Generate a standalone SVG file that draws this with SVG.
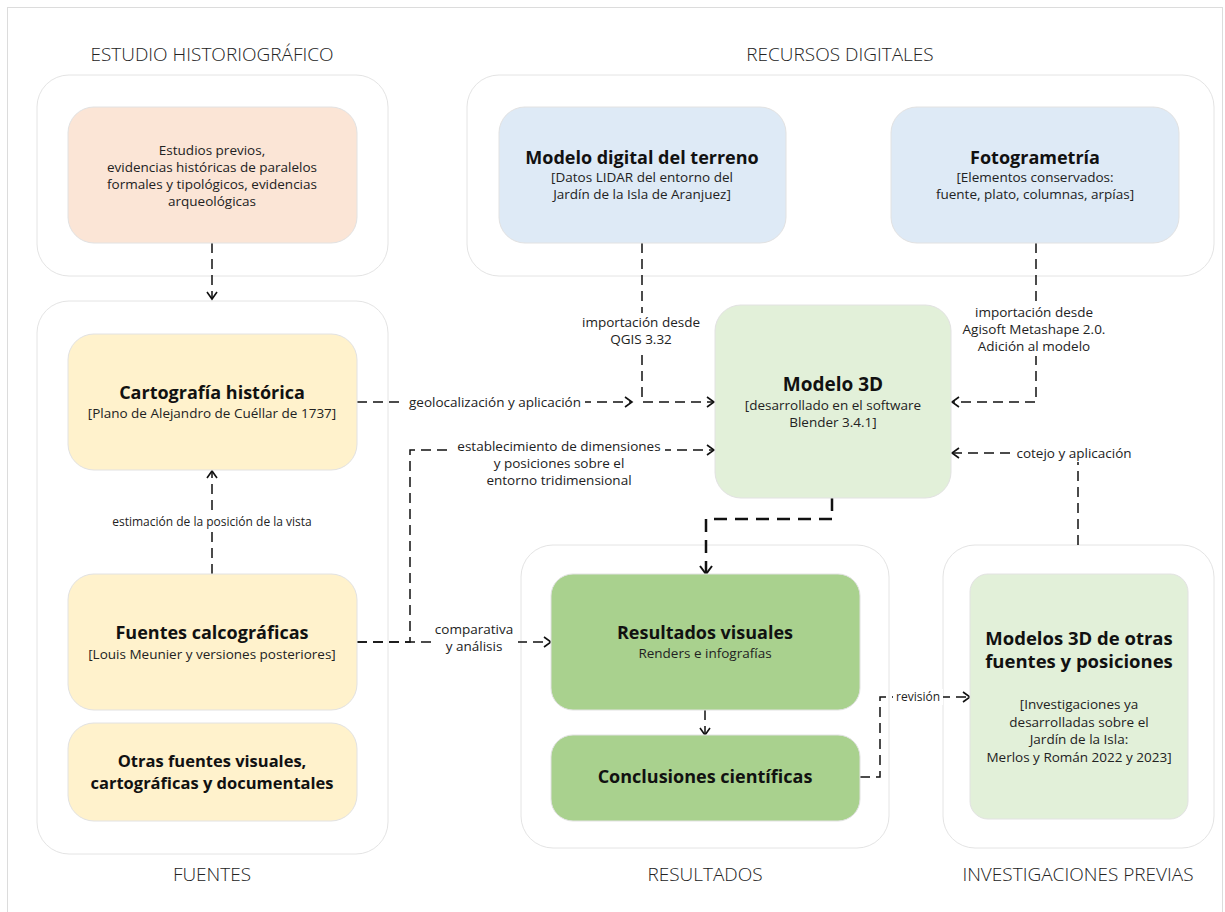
<svg xmlns="http://www.w3.org/2000/svg" width="1225" height="912" viewBox="0 0 1225 912">
<style>
text{font-family:"Open Sans","Noto Sans",sans-serif;fill:#111;text-anchor:middle}
.sec{font-size:19px;font-weight:300;fill:#222}
.ttl{font-size:18px;font-weight:700}
.sub{font-size:13.5px;fill:#222}
.lbl{font-size:13.5px;fill:#222}
.lbs{font-size:12px;fill:#222}
.cont{fill:#fff;stroke:#e4e4e4;stroke-width:1}
.node{stroke:#e2e2e2;stroke-width:1}
.peach{fill:#fbe5d6}
.yel{fill:#fff2cc}
.blue{fill:#deeaf6}
.lgreen{fill:#e2f0d9}
.green{fill:#a9d18e}
.c{fill:none;stroke:#111;stroke-width:1.5;stroke-dasharray:10 6}
.ct{fill:none;stroke:#111;stroke-width:2.5;stroke-dasharray:13 8}
.bg{fill:#fff}
</style>
<defs>
<marker id="ah" viewBox="0 0 10 12" refX="8" refY="6" markerWidth="10" markerHeight="12" markerUnits="userSpaceOnUse" orient="auto">
<path d="M1,1 L8,6 L1,11" fill="none" stroke="#111" stroke-width="1.6"/>
</marker>
<marker id="ahb" viewBox="0 0 12 14" refX="9" refY="7" markerWidth="12" markerHeight="14" markerUnits="userSpaceOnUse" orient="auto">
<path d="M1,1 L9,7 L1,13" fill="none" stroke="#111" stroke-width="2"/>
</marker>
</defs>
<rect x="0" y="0" width="1225" height="912" fill="#fff"/>
<rect x="7.5" y="7.5" width="1215" height="910" fill="none" stroke="#dcdcdc"/>

<g id="sections">
<text class="sec" x="212" y="61">ESTUDIO HISTORIOGRÁFICO</text>
<text class="sec" x="840" y="61">RECURSOS DIGITALES</text>
<text class="sec" x="212" y="881">FUENTES</text>
<text class="sec" x="705" y="881">RESULTADOS</text>
<text class="sec" x="1078" y="881">INVESTIGACIONES PREVIAS</text>
</g>

<g id="containers">
<rect id="c-estudio" class="cont" x="37" y="75" width="351" height="201" rx="32"/>
<rect id="c-recursos" class="cont" x="467" y="75" width="747" height="201" rx="32"/>
<rect id="c-fuentes" class="cont" x="37" y="301" width="351" height="553" rx="32"/>
<rect id="c-resultados" class="cont" x="521" y="545" width="368" height="303" rx="32"/>
<rect id="c-investigaciones" class="cont" x="943" y="545" width="271" height="303" rx="32"/>
</g>

<g id="connectors">
<path class="c" d="M212,243 V299" marker-end="url(#ah)"/>
<path class="c" d="M212,574 V471" marker-end="url(#ah)"/>
<path class="c" d="M357,402 H632" marker-end="url(#ah)"/>
<path class="c" d="M642,243 V402 H714" marker-end="url(#ah)"/>
<path class="c" d="M1036,243 V402 H952" marker-end="url(#ah)"/>
<path class="c" d="M1078,545 V453 H952" marker-end="url(#ah)"/>
<path class="c" d="M357,642 H410 V450 H714" marker-end="url(#ah)"/>
<path class="c" d="M357,642 H551" marker-end="url(#ah)"/>
<path class="ct" d="M832,498 V519 H706 V574" marker-end="url(#ahb)"/>
<path class="c" d="M705,710 V735" marker-end="url(#ah)"/>
<path class="c" d="M860,777 H880 V697 H970" marker-end="url(#ah)"/>

<rect class="bg" x="405" y="393" width="180" height="18"/>
<text class="lbl" x="495" y="407">geolocalización y aplicación</text>
<rect class="bg" x="580" y="313" width="124" height="36"/>
<text class="lbl" x="641" y="327">importación desde</text>
<text class="lbl" x="641" y="344">QGIS 3.32</text>
<rect class="bg" x="960" y="303" width="150" height="53"/>
<text class="lbl" x="1034" y="317">importación desde</text>
<text class="lbl" x="1034" y="334">Agisoft Metashape 2.0.</text>
<text class="lbl" x="1034" y="351">Adición al modelo</text>
<rect class="bg" x="1015" y="444" width="118" height="18"/>
<text class="lbl" x="1074" y="458">cotejo y aplicación</text>
<rect class="bg" x="453" y="441" width="212" height="18"/>
<text class="lbl" x="559" y="451">establecimiento de dimensiones</text>
<text class="lbl" x="559" y="468">y posiciones sobre el</text>
<text class="lbl" x="559" y="485">entorno tridimensional</text>
<rect class="bg" x="432" y="619" width="86" height="37"/>
<text class="lbl" x="474" y="634">comparativa</text>
<text class="lbl" x="474" y="651">y análisis</text>
<rect class="bg" x="110" y="513" width="204" height="17"/>
<text class="lbs" x="212" y="526">estimación de la posición de la vista</text>
<rect class="bg" x="893" y="689" width="50" height="16"/>
<text class="lbs" x="918" y="701">revisión</text>
</g>

<g id="n-estudios">
<rect class="node peach" x="68" y="107" width="289" height="136" rx="26"/>
<text class="sub" x="212" y="155">Estudios previos,</text>
<text class="sub" x="212" y="172">evidencias históricas de paralelos</text>
<text class="sub" x="212" y="189">formales y tipológicos, evidencias</text>
<text class="sub" x="212" y="206">arqueológicas</text>
</g>

<g id="n-mdt">
<rect class="node blue" x="499" y="107" width="287" height="136" rx="26"/>
<text class="ttl" x="642" y="164">Modelo digital del terreno</text>
<text class="sub" x="642" y="182">[Datos LIDAR del entorno del</text>
<text class="sub" x="642" y="199">Jardín de la Isla de Aranjuez]</text>
</g>

<g id="n-foto">
<rect class="node blue" x="891" y="107" width="288" height="136" rx="26"/>
<text class="ttl" x="1035" y="164">Fotogrametría</text>
<text class="sub" x="1035" y="182">[Elementos conservados:</text>
<text class="sub" x="1035" y="199">fuente, plato, columnas, arpías]</text>
</g>

<g id="n-cartografia">
<rect class="node yel" x="68" y="334" width="289" height="136" rx="26"/>
<text class="ttl" x="212" y="399">Cartografía histórica</text>
<text class="sub" x="212" y="418">[Plano de Alejandro de Cuéllar de 1737]</text>
</g>

<g id="n-modelo3d">
<rect class="node lgreen" x="715" y="305" width="236" height="193" rx="26"/>
<text class="ttl" x="833" y="391" style="font-size:19px">Modelo 3D</text>
<text class="sub" x="833" y="410">[desarrollado en el software</text>
<text class="sub" x="833" y="427">Blender 3.4.1]</text>
</g>

<g id="n-calcograficas">
<rect class="node yel" x="68" y="574" width="289" height="136" rx="26"/>
<text class="ttl" x="212" y="639">Fuentes calcográficas</text>
<text class="sub" x="212" y="659">[Louis Meunier y versiones posteriores]</text>
</g>

<g id="n-otras">
<rect class="node yel" x="68" y="723" width="289" height="98" rx="26"/>
<text class="ttl" x="212" y="767" style="font-size:16.5px">Otras fuentes visuales,</text>
<text class="ttl" x="212" y="789" style="font-size:16.5px">cartográficas y documentales</text>
</g>

<g id="n-resultados">
<rect class="node green" x="551" y="574" width="309" height="136" rx="22"/>
<text class="ttl" x="705" y="639">Resultados visuales</text>
<text class="sub" x="705" y="658">Renders e infografías</text>
</g>

<g id="n-conclusiones">
<rect class="node green" x="551" y="735" width="309" height="86" rx="22"/>
<text class="ttl" x="705" y="783">Conclusiones científicas</text>
</g>

<g id="n-modelos-otros">
<rect class="node lgreen" x="970" y="574" width="218" height="245" rx="18"/>
<text class="ttl" x="1079" y="645" style="font-size:18.5px">Modelos 3D de otras</text>
<text class="ttl" x="1079" y="668" style="font-size:18.5px">fuentes y posiciones</text>
<text class="sub" x="1079" y="709">[Investigaciones ya</text>
<text class="sub" x="1079" y="727">desarrolladas sobre el</text>
<text class="sub" x="1079" y="744">Jardín de la Isla:</text>
<text class="sub" x="1079" y="762">Merlos y Román 2022 y 2023]</text>
</g>
</svg>
